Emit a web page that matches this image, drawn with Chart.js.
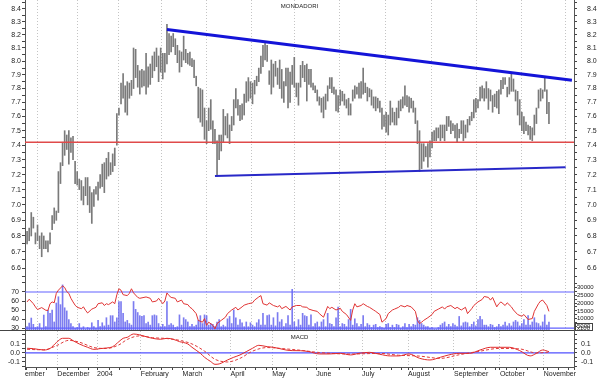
<!DOCTYPE html>
<html>
<head>
<meta charset="utf-8">
<script src="https://cdn.jsdelivr.net/npm/chart.js@4.4.1/dist/chart.umd.min.js"></script>
<style>
  html, body { margin: 0; padding: 0; background: #fff; }
  #wrap { position: relative; width: 600px; height: 378px; overflow: hidden; }
  canvas { position: absolute; left: 0; }
</style>
</head>
<body>
<div id="wrap">
  <canvas id="price" width="600" height="282" style="top:0px"></canvas>
  <canvas id="osc" width="600" height="49" style="top:282px"></canvas>
  <canvas id="macdc" width="600" height="47" style="top:331px"></canvas>
</div>
<script>
// daily bars, Nov 10 2003 .. Nov 3 2004 (trading day index 0..250)
const high = [
  6.83, 6.85, 6.95, 6.92, 6.82, 6.87, 6.80, 6.82, 6.80, 6.77, 6.77, 6.82, 6.93, 6.98, 6.96,
  7.22, 7.28, 7.42, 7.50, 7.47, 7.50, 7.45, 7.46, 7.29, 7.22, 7.17, 7.16, 7.12, 7.18, 7.18, 7.12, 7.08, 7.10, 7.12,
  7.15, 7.20, 7.27, 7.28, 7.31, 7.35, 7.28, 7.34, 7.38, 7.62, 7.66, 7.84, 7.91, 7.82, 7.85, 7.84, 7.86, 8.10, 8.09, 7.97, 7.93,
  7.94, 7.93, 8.06, 7.96, 7.98, 8.04, 8.07, 8.10, 8.04, 8.10, 8.06, 8.06, 8.28, 8.21, 8.19, 8.21, 8.17, 8.12, 8.08, 8.07,
  8.19, 8.09, 8.06, 8.07, 8.02, 8.01, 7.89, 7.81, 7.80, 7.79, 7.66, 7.57, 7.66, 7.72, 7.57, 7.51, 7.43, 7.47, 7.47, 7.65, 7.60, 7.62, 7.54,
  7.60, 7.72, 7.80, 7.72, 7.68, 7.69, 7.76, 7.85, 7.88, 7.85, 7.84, 7.86, 7.89, 7.95, 8.04, 8.12, 8.14, 8.12, 7.93, 8.01,
  7.98, 8.00, 7.95, 8.01, 7.94, 7.85, 7.95, 7.95, 7.92, 7.97, 8.03, 7.84, 7.84, 7.97, 8.00, 7.97, 7.98, 7.94, 7.94, 7.84, 7.82,
  7.79, 7.74, 7.73, 7.74, 7.76, 7.82, 7.88, 7.88, 7.81, 7.79, 7.75, 7.79, 7.78, 7.76, 7.72, 7.73, 7.69, 7.79, 7.82, 7.81, 7.84, 7.85,
  7.95, 7.84, 7.81, 7.80, 7.79, 7.74, 7.74, 7.73, 7.71, 7.66, 7.61, 7.63, 7.61, 7.71, 7.66, 7.63, 7.66, 7.71, 7.72, 7.74, 7.82, 7.75,
  7.74, 7.73, 7.71, 7.66, 7.57, 7.50, 7.41, 7.41, 7.39, 7.41, 7.43, 7.49, 7.50, 7.52, 7.52, 7.54, 7.54, 7.54, 7.60, 7.60, 7.57, 7.55,
  7.54, 7.55, 7.51, 7.57, 7.57, 7.54, 7.58, 7.60, 7.63, 7.72, 7.73, 7.72, 7.81, 7.82, 7.80, 7.85, 7.80, 7.79, 7.75, 7.76, 7.78, 7.79,
  7.86, 7.88, 7.88, 7.81, 7.88, 7.91, 7.87, 7.79, 7.78, 7.72, 7.63, 7.60, 7.56, 7.54, 7.53, 7.52, 7.61, 7.66, 7.79, 7.80, 7.79,
  7.88, 7.79, 7.70
];
const low = [
  6.75, 6.77, 6.80, 6.85, 6.75, 6.77, 6.72, 6.67, 6.72, 6.72, 6.70, 6.75, 6.84, 6.88, 6.90,
  6.95, 7.14, 7.26, 7.33, 7.37, 7.27, 7.35, 7.30, 7.14, 7.13, 7.10, 7.03, 7.00, 7.06, 7.00, 6.95, 6.88, 6.99, 7.07,
  7.03, 7.11, 7.12, 7.08, 7.17, 7.19, 7.20, 7.22, 7.26, 7.40, 7.61, 7.69, 7.73, 7.63, 7.61, 7.73, 7.75, 7.80, 7.88, 7.81, 7.76,
  7.81, 7.82, 7.76, 7.81, 7.83, 7.88, 7.93, 7.96, 7.85, 7.92, 7.87, 7.92, 7.98, 8.05, 8.07, 8.11, 8.05, 7.99, 7.92, 7.96,
  8.01, 7.99, 7.98, 7.97, 7.96, 7.88, 7.82, 7.59, 7.56, 7.53, 7.44, 7.41, 7.50, 7.51, 7.41, 7.41, 7.19, 7.30, 7.36, 7.42, 7.47, 7.45, 7.41,
  7.50, 7.54, 7.66, 7.61, 7.57, 7.58, 7.61, 7.70, 7.71, 7.73, 7.69, 7.76, 7.82, 7.85, 7.91, 7.96, 8.01, 8.00, 7.83, 7.76,
  7.81, 7.89, 7.83, 7.80, 7.73, 7.70, 7.82, 7.66, 7.70, 7.83, 7.81, 7.74, 7.68, 7.81, 7.88, 7.85, 7.71, 7.83, 7.81, 7.79, 7.77,
  7.71, 7.68, 7.63, 7.59, 7.65, 7.71, 7.80, 7.77, 7.76, 7.64, 7.63, 7.68, 7.71, 7.68, 7.66, 7.61, 7.61, 7.71, 7.73, 7.76, 7.73, 7.73,
  7.76, 7.77, 7.71, 7.74, 7.68, 7.66, 7.64, 7.66, 7.63, 7.51, 7.53, 7.49, 7.47, 7.54, 7.56, 7.54, 7.54, 7.59, 7.64, 7.66, 7.68, 7.67,
  7.63, 7.66, 7.63, 7.55, 7.41, 7.22, 7.24, 7.29, 7.32, 7.25, 7.32, 7.38, 7.43, 7.43, 7.45, 7.43, 7.45, 7.43, 7.50, 7.53, 7.48, 7.50,
  7.45, 7.42, 7.45, 7.48, 7.43, 7.45, 7.49, 7.54, 7.57, 7.59, 7.63, 7.66, 7.71, 7.73, 7.71, 7.73, 7.65, 7.71, 7.63, 7.67, 7.66, 7.62,
  7.76, 7.80, 7.83, 7.74, 7.76, 7.78, 7.78, 7.71, 7.61, 7.54, 7.50, 7.48, 7.50, 7.47, 7.44, 7.43, 7.47, 7.55, 7.66, 7.71, 7.73,
  7.78, 7.62, 7.55
];
const volume = [
  5000, 7300, 10500, 6500, 4500, 5000, 7000, 4000, 12400, 5000,
  15600, 13500, 15600, 8000, 20000, 24000, 19000, 31500, 17000, 15000,
  9500, 7000, 5000, 4000, 4500, 7000, 4000, 5000, 3500, 4500,
  4000, 7500, 5000, 4000, 9000, 5000, 7500, 5500, 10700, 6000,
  12000, 12000, 8000, 10700, 21000, 21000, 13500, 8000, 9000, 7000,
  6000, 21000, 16000, 14000, 12000, 11500, 12000, 7000, 8000, 6000,
  12000, 12500, 12000, 7000, 5000, 6500, 5000, 21000, 6000, 7000,
  6000, 4500, 5000, 12500, 6000, 10700, 9500, 8000, 5000, 6500,
  5000, 6000, 9000, 12000, 7000, 12500, 12000, 6000, 7000, 6500,
  5000, 8000, 9500, 5000, 6000, 5000, 10000, 11500, 7000, 15600,
  10700, 6000, 9500, 7500, 5000, 8000, 5000, 7500, 6000, 5000,
  7500, 9500, 6000, 13500, 6000, 12000, 12500, 6000, 10700, 5500,
  14000, 8000, 9500, 5000, 7000, 12000, 6000, 28700, 8000, 5000,
  9500, 6000, 13500, 12000, 11500, 6000, 12500, 5000, 7000, 8000,
  5000, 8000, 9500, 5000, 13500, 7000, 6500, 5000, 10700, 17500,
  5000, 7000, 6500, 5000, 9500, 16000, 6000, 10000, 7000, 5000,
  6500, 12000, 5000, 7000, 6000, 4500, 6000, 6500, 4500, 5000,
  4500, 4000, 6500, 7000, 4500, 6000, 4500, 6500, 6000, 4000,
  5000, 7000, 4500, 6500, 5000, 6500, 6000, 10700, 9000, 7000,
  6000, 5000, 5000, 4000, 4500, 3500, 3500, 4500, 6000, 7000,
  8000, 5000, 6500, 5000, 7000, 6000, 5000, 11500, 5500, 7500,
  8000, 7500, 5000, 6500, 8000, 5500, 9500, 11500, 9500, 6000,
  6000, 5000, 6500, 6000, 4500, 5000, 6500, 5000, 6000, 8000,
  5500, 7000, 5500, 8000, 9000, 8000, 5500, 7000, 9500, 6000,
  12000, 6000, 8000, 10700, 7500, 7000, 5500, 8000, 12500, 6000,
  8000
];
// [day, value]
const rsi = [
  [0,59],[1,62],[3,57],[4,53.5],[5,50.5],[7,52.7],[9,49.7],[10,49.5],[11,57],[12,59],[13,58],[14,68.5],
  [15,72],[17,76.8],[18,75],[19,70.4],[20,68.5],[21,63],[22,59],[23,55.4],[24,53],[26,51.5],[27,53.5],
  [28,49.7],[29,46.7],[31,51],[32,52],[33,53],[34,57],[36,58],[37,55],[38,57],[39,56],[41,59],[42,57],
  [43,67],[44,73.6],[45,72],[46,67],[48,66],[49,68.5],[50,73.6],[51,69],[53,64],[54,63],[56,64],[57,64.5],
  [59,63],[60,59],[62,60],[63,63],[65,57],[66,60],[67,69],[68,66],[69,64],[71,63],[72,59],[74,61],[75,57],
  [77,56],[78,53],[79,51.5],[81,46],[82,38.5],[84,36.5],[85,40.5],[86,33],[87,36.5],[89,33],[90,29],[91,35],
  [93,38.5],[95,42],[96,46],[98,50],[100,53],[101,50],[103,53.5],[104,55.4],[106,57],[108,58],[109,61],
  [111,64.5],[112,66],[113,57],[115,55.4],[116,58],[118,55],[120,53.5],[121,55],[122,51.5],[124,54],[126,50],
  [127,53.5],[129,55],[131,55],[132,53.5],[134,53],[135,51],[137,49.5],[139,48.5],[140,46],[142,42],[144,54],
  [145,51.5],[146,53],[148,50],[150,52],[151,48.5],[153,45],[155,38.5],[156,50],[157,57],[158,53.5],[160,55],
  [161,57],[163,54],[164,53],[166,50],[167,48.5],[169,45],[170,36.5],[172,40.5],[173,46],[175,50],[176,51],
  [178,53],[179,55],[181,53.5],[182,55],[184,53.5],[186,48.5],[187,38.5],[188,35],[189,36.5],[190,38.5],
  [192,41.5],[194,45],[195,48.5],[197,51],[199,53.5],[200,51],[201,53.5],[203,55],[205,51.5],[206,53],[208,50],
  [210,53],[211,46],[213,51.5],[214,55],[216,59],[218,61.7],[219,65],[221,64],[222,61],[223,64],[225,53.5],
  [226,57],[227,59],[229,55],[230,58],[232,53.5],[233,50],[235,45],[237,43],[238,45],[240,39.5],[242,40.5],
  [243,48.5],[245,57],[246,60],[247,61],[249,55],[250,48.5]
];
const macd = [
  [0,.052],[3,.048],[8,.033],[11,.05],[14,.115],[17,.163],[20,.163],[22,.137],[25,.10],[29,.063],[32,.04],
  [35,.048],[38,.055],[41,.07],[44,.126],[46,.163],[48,.174],[51,.211],[54,.20],[57,.181],[60,.163],[64,.152],
  [67,.163],[70,.152],[73,.126],[77,.10],[79,.063],[83,-.004],[85,-.048],[88,-.096],[90,-.126],[92,-.122],
  [96,-.078],[99,-.048],[102,-.022],[105,.015],[108,.052],[111,.085],[115,.07],[118,.063],[121,.048],[124,.033],
  [127,.026],[131,.025],[135,.015],[140,-.011],[145,-.011],[150,-.004],[155,-.022],[159,-.004],[164,.007],
  [169,-.015],[174,-.033],[178,-.033],[183,-.011],[188,-.059],[193,-.078],[198,-.048],[202,-.022],[207,-.004],
  [212,-.004],[217,.033],[222,.063],[226,.063],[231,.063],[236,.026],[241,-.033],[244,-.004],[247,.033],[250,.015]
];
const signal = [
  [0,.04],[8,.035],[14,.08],[20,.14],[25,.12],[32,.06],[38,.05],[44,.09],[48,.15],[54,.19],[60,.17],[67,.16],
  [73,.14],[79,.10],[85,.02],[90,-.07],[96,-.10],[102,-.06],[108,.02],[115,.06],[124,.045],[131,.03],[140,.005],
  [155,-.012],[169,-.005],[178,-.025],[188,-.035],[198,-.06],[207,-.02],[217,.02],[226,.05],[236,.045],[244,.0],[250,.01]
];
const support = 7.42;
const upperTrend = [[67, 8.24], [261, 7.86]];
const lowerTrend = [[90, 7.19], [258, 7.25]];

// first trading day of each month, and the labels under it
const monthStart = [15, 34, 55, 75, 98, 118, 139, 161, 183, 205, 227, 248];
const monthNames = ['December', '2004', 'February', 'March', 'April', 'May', 'June', 'July', 'August', 'September', 'October', 'November'];

const X_MIN = -1, X_MAX = 262;
const FONT = '"Liberation Sans", Arial, sans-serif';
Chart.defaults.font.family = FONT;
Chart.defaults.font.size = 7;
Chart.defaults.color = '#222';
Chart.defaults.animation = false;

const gridPos = monthStart.map(d => d - 0.5);
const pts = arr => arr.map(p => ({ x: p[0], y: p[1] }));
const near = (a, b) => Math.abs(a - b) < 1e-6;

function hiddenX() {
  return {
    type: 'linear', min: X_MIN, max: X_MAX, offset: false,
    afterBuildTicks: s => { s.ticks = gridPos.map(v => ({ value: v })); },
    afterFit: s => { s.height = 0; s.paddingLeft = 0; s.paddingRight = 0; },
    ticks: { display: false },
    grid: { color: '#c4c4c4', drawTicks: false },
    border: { display: false, dash: [1, 2] }
  };
}

function yAxis(pos, min, max, ticks, label, width, extra) {
  return Object.assign({
    type: 'linear', position: pos, min: min, max: max,
    afterBuildTicks: s => { s.ticks = ticks.map(v => ({ value: v })); },
    // keep the plot area flush with the canvas edges
    afterFit: s => { s.width = width; s.paddingTop = 0; s.paddingBottom = 0; },
    ticks: { autoSkip: false, padding: 1, callback: label },
    grid: { drawOnChartArea: false, drawTicks: true, tickLength: 3, tickColor: '#444' },
    border: { display: true, color: '#555' }
  }, extra || {});
}

const overlay = {
  id: 'overlay',
  afterDraw(chart, args, o) {
    const { ctx, chartArea } = chart;
    ctx.save();
    if (o.text) {
      ctx.font = o.font;
      ctx.fillStyle = '#222';
      ctx.textAlign = 'center';
      ctx.fillText(o.text, (chartArea.left + chartArea.right) / 2, chartArea.top + o.dy);
    }
    if (o.rule) {
      ctx.strokeStyle = '#444';
      ctx.lineWidth = 1;
      ctx.beginPath();
      ctx.moveTo(0, chartArea.bottom - 0.5);
      ctx.lineTo(chartArea.right, chartArea.bottom - 0.5);
      ctx.stroke();
    }
    if (o.unit) {
      ctx.font = '6px ' + FONT;
      ctx.fillStyle = '#222';
      ctx.textAlign = 'left';
      ctx.fillText(o.unit, chartArea.right + 3, chartArea.bottom - 1);
      ctx.strokeStyle = '#444';
      ctx.strokeRect(chartArea.right + 1.5, chartArea.bottom - 7.5, 17, 7);
    }
    ctx.restore();
  }
};

// ---------- price panel ----------
const priceTicks = [];
for (let v = 655; v <= 845; v += 5) priceTicks.push(v / 100);
const priceLabel = v => near(v * 10, Math.round(v * 10)) ? v.toFixed(1) : '';
const PMIN = 6.515, PMAX = 8.47;

new Chart(document.getElementById('price'), {
  type: 'bar',
  data: {
    datasets: [
      { type: 'line', data: pts(upperTrend), borderColor: '#1414d8', borderWidth: 3, pointRadius: 0, yAxisID: 'y' },
      { type: 'line', data: pts(lowerTrend), borderColor: '#2828c8', borderWidth: 2, pointRadius: 0, yAxisID: 'y' },
      { type: 'line', data: [{ x: X_MIN, y: support }, { x: X_MAX, y: support }], borderColor: '#e04a4a', borderWidth: 1.5, pointRadius: 0, yAxisID: 'y' },
      { data: high.map((h, i) => ({ x: i, y: [low[i], h] })), backgroundColor: '#7a7a7a', barThickness: 1, yAxisID: 'y' }
    ]
  },
  options: {
    responsive: false,
    layout: { padding: 0, autoPadding: false },
    plugins: { legend: { display: false }, tooltip: { enabled: false },
      overlay: { text: 'MONDADORI', font: '6px ' + FONT, dy: 8 } },
    scales: {
      x: hiddenX(),
      y: yAxis('left', PMIN, PMAX, priceTicks, priceLabel, 25, { type: 'logarithmic' }),
      y2: yAxis('right', PMIN, PMAX, priceTicks, priceLabel, 26, { type: 'logarithmic',
        ticks: { autoSkip: false, padding: 10, callback: priceLabel } })
    }
  },
  plugins: [overlay]
});

// ---------- RSI / volume panel ----------
const rsiTicks = [30, 40, 50, 60, 70, 80];
const volTicks = [];
for (let v = 2500; v <= 32500; v += 2500) volTicks.push(v);
const rsiLabel = v => v <= 70 ? String(v) : '';
const volLabel = v => (v % 5000 === 0 && v <= 30000) ? String(v) : '';

new Chart(document.getElementById('osc'), {
  type: 'bar',
  data: {
    datasets: [
      { type: 'line', data: pts(rsi), borderColor: '#e03434', borderWidth: 1, pointRadius: 0, yAxisID: 'yr' },
      { type: 'line', data: [{ x: X_MIN, y: 70 }, { x: X_MAX, y: 70 }], borderColor: '#6262ff', borderWidth: 1.2, pointRadius: 0, yAxisID: 'yr' },
      { type: 'line', data: [{ x: X_MIN, y: 30 }, { x: X_MAX, y: 30 }], borderColor: '#6262ff', borderWidth: 1.2, pointRadius: 0, yAxisID: 'yr' },
      { data: volume.map((v, i) => ({ x: i, y: v })), backgroundColor: 'rgba(80,80,235,0.75)', barThickness: 1, yAxisID: 'yv' }
    ]
  },
  options: {
    responsive: false,
    layout: { padding: 0, autoPadding: false },
    plugins: { legend: { display: false }, tooltip: { enabled: false },
      overlay: { rule: true, unit: 'x100' } },
    scales: {
      x: hiddenX(),
      yr: yAxis('left', 26.7, 81.1, rsiTicks, rsiLabel, 25,
        { ticks: { autoSkip: false, padding: 3, callback: rsiLabel } }),
      yv: yAxis('right', 2270, 33360, volTicks, volLabel, 26,
        { ticks: { autoSkip: false, padding: 0, font: { size: 6 }, callback: volLabel } })
    }
  },
  plugins: [overlay]
});

// ---------- MACD panel ----------
const macdTicks = [-0.15, -0.1, -0.05, 0, 0.05, 0.1, 0.15, 0.2];
const macdLabel = v => near(v, 0.1) ? '0.1' : near(v, 0) ? '0.0' : near(v, -0.1) ? '-0.1' : '';
const weekTicks = [];
for (let d = 0; d <= 260; d += 5) weekTicks.push(d - 0.5);
const dateTicks = [X_MIN].concat(weekTicks.filter(w => !gridPos.some(g => Math.abs(g - w) < 1.5)), gridPos)
  .sort((a, b) => a - b);
dateTicks.push(X_MAX);
const dateLabel = v => {
  if (v === X_MIN) return 'ember';
  const k = gridPos.indexOf(v);
  return k >= 0 ? monthNames[k] : '';
};

new Chart(document.getElementById('macdc'), {
  type: 'line',
  data: {
    datasets: [
      { data: pts(macd), borderColor: '#e02a2a', borderWidth: 1, pointRadius: 0, cubicInterpolationMode: 'monotone' },
      { data: pts(signal), borderColor: '#e03a3a', borderWidth: 1, borderDash: [3, 2], pointRadius: 0, cubicInterpolationMode: 'monotone' },
      { data: [{ x: X_MIN, y: 0 }, { x: X_MAX, y: 0 }], borderColor: '#5050ff', borderWidth: 1.2, pointRadius: 0 }
    ]
  },
  options: {
    responsive: false,
    layout: { padding: 0, autoPadding: false },
    plugins: { legend: { display: false }, tooltip: { enabled: false },
      overlay: { text: 'MACD', font: '6px ' + FONT, dy: 7.5 } },
    scales: {
      x: {
        type: 'linear', min: X_MIN, max: X_MAX, offset: false,
        afterBuildTicks: s => { s.ticks = dateTicks.map(v => ({ value: v })); },
        afterFit: s => { s.height = 11; s.paddingLeft = 0; s.paddingRight = 0; },
        ticks: { autoSkip: false, maxRotation: 0, align: 'start', padding: 0, callback: dateLabel },
        grid: {
          color: c => (c.tick && gridPos.includes(c.tick.value)) ? '#c4c4c4' : 'rgba(0,0,0,0)',
          drawTicks: true, tickLength: 3, tickColor: '#444'
        },
        border: { display: true, color: '#555', dash: [1, 2] }
      },
      y: yAxis('left', -0.156, 0.244, macdTicks, macdLabel, 25, { ticks: { autoSkip: false, padding: 2, callback: macdLabel } }),
      y2: yAxis('right', -0.156, 0.244, macdTicks, macdLabel, 26, { ticks: { autoSkip: false, padding: 4, callback: macdLabel } })
    }
  },
  plugins: [overlay]
});
</script>
</body>
</html>
